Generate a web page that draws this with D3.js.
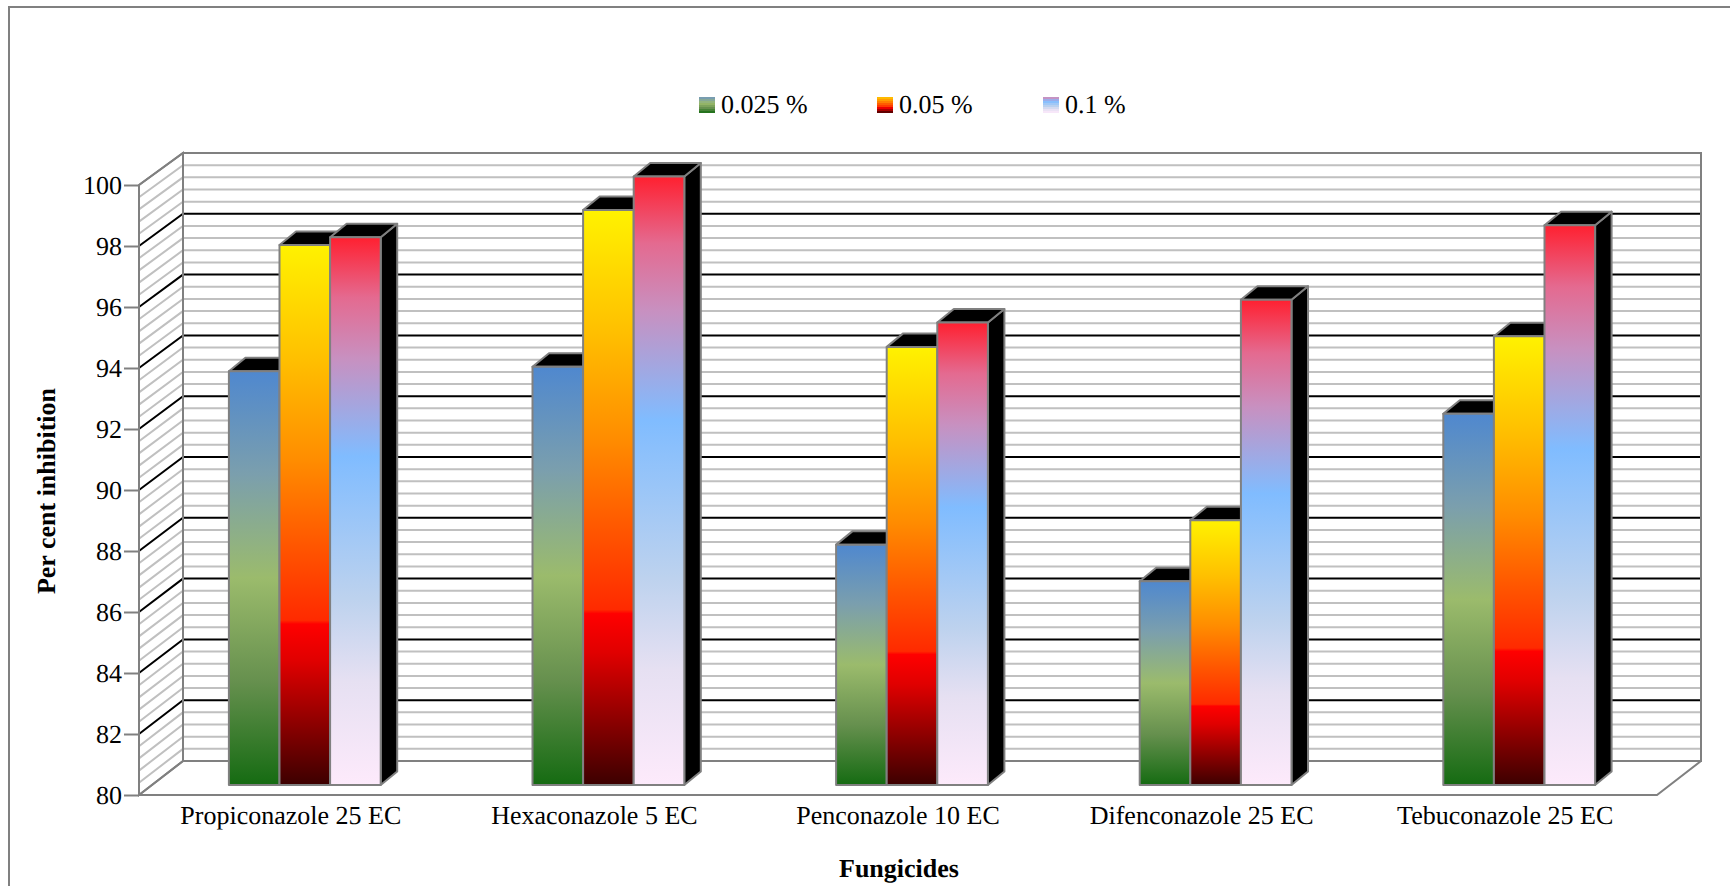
<!DOCTYPE html>
<html>
<head>
<meta charset="utf-8">
<title>Per cent inhibition by fungicide</title>
<script src="https://cdn.jsdelivr.net/npm/d3@7"></script>
<style>
  html, body { margin: 0; padding: 0; background: #fff; }
  svg { display: block; }
  text { font-family: "Liberation Serif", serif; fill: #000; text-rendering: geometricPrecision; }
</style>
</head>
<body>
<svg id="chart" width="1730" height="886"></svg>
<script>
// Chart data
const fungicides = ["Propiconazole 25 EC", "Hexaconazole 5 EC", "Penconazole 10 EC", "Difenconazole 25 EC", "Tebuconazole 25 EC"];
const seriesNames = ["0.025 %", "0.05 %", "0.1 %"];
const lowDose = [93.6, 93.75, 87.9, 86.7, 92.2];
const midDose = [97.75, 98.9, 94.4, 88.7, 94.75];
const highDose = [98.0, 100, 95.2, 95.95, 98.4];
const yTicks = [80, 82, 84, 86, 88, 90, 92, 94, 96, 98, 100];
const minorGrid = d3.range(80, 100.01, 0.4).map(v => +v.toFixed(1));

// Gradient ramps, top of bar to bottom
const ramps = [
  [[0, "#4f88cf"], [0.25, "#7b9fad"], [0.5, "#9bbb6c"], [0.75, "#66904e"], [1, "#156b12"]],
  [[0, "#fff200"], [0.21, "#ffc000"], [0.4, "#ff8c00"], [0.56, "#ff5500"], [0.695, "#ff2a00"], [0.702, "#ff0000"], [0.77, "#e00000"], [1, "#3c0000"]],
  [[0, "#ff2030"], [0.11, "#e46a90"], [0.22, "#c890c0"], [0.4, "#80bcff"], [0.66, "#bdd2ee"], [0.81, "#e6e0f2"], [1, "#fdeafb"]]
];

const GREY = "#808080", LIGHT = "#c0c0c0";
const FONT_SIZE = 26;
const svg = d3.select("#chart");
const defs = svg.append("defs");

// Outer chart frame: only the top and left edges fall inside the page
svg.append("path").attr("d", d3.line()([[1730, 7], [9, 7], [9, 886]]))
  .attr("fill", "none").attr("stroke", GREY).attr("stroke-width", 2);

// Three parallel planes of the 3D box: front edge, bar plane and back wall
const yFront = d3.scaleLinear().domain([80, 100]).range([795, 185]);
const yBar = d3.scaleLinear().domain([80, 100]).range([785, 176.5]);
const yBack = d3.scaleLinear().domain([80, 100]).range([761, 153]);
const xFront = d3.scaleBand().domain(fungicides).range([139, 1657]).paddingInner(0.5).paddingOuter(0.25);
const xBar = d3.scaleBand().domain(fungicides).range([153, 1671]).paddingInner(0.5).paddingOuter(0.25);
const xSeries = d3.scaleBand().domain(seriesNames).range([0, xBar.bandwidth()]);
const wallDx = 44, barDx = 16.5, barDy = 13.5;
const backLeft = 139 + wallDx, backRight = 1657 + wallDx;

// Walls and floor
const walls = svg.append("g").attr("fill", "#fff").attr("stroke", GREY).attr("stroke-width", 2);
walls.append("rect").attr("x", backLeft).attr("y", yBack(100)).attr("width", backRight - backLeft).attr("height", yBack(80) - yBack(100));
walls.append("path").attr("d", d3.line()([[139, yFront(100)], [backLeft, yBack(100)], [backLeft, yBack(80)], [139, yFront(80)]]) + "Z");

// Gridlines on the side wall and back wall; black major lines sit above the grey ones
const inner = minorGrid.filter(v => v > 80 && v < 100);
const isMajor = v => Math.abs(v / 2 - Math.round(v / 2)) < 1e-6;
svg.append("g").attr("fill", "none").attr("stroke-width", 2)
  .selectAll("path")
  .data([...inner.filter(v => !isMajor(v)), ...inner.filter(isMajor)])
  .join("path")
  .attr("d", v => d3.line()([[139, yFront(v)], [backLeft, yBack(v)], [backRight, yBack(v)]]))
  .attr("stroke", v => isMajor(v) ? "#000" : LIGHT);

// Wall outlines on top of the gridlines
const edges = svg.append("g").attr("fill", "none").attr("stroke", GREY).attr("stroke-width", 2);
edges.append("path").attr("d", d3.line()([[139, yFront(100)], [backLeft, yBack(100)], [backRight, yBack(100)], [backRight, yBack(80)], [backLeft, yBack(80)], [backLeft, yBack(100)]]));
edges.append("path").attr("d", d3.line()([[139, yFront(100)], [139, yFront(80)], [1657, yFront(80)], [backRight, yBack(80)]]));
edges.append("path").attr("d", d3.line()([[139, yFront(80)], [backLeft, yBack(80)]]));

// Gradient definitions
ramps.forEach((ramp, i) => {
  defs.append("linearGradient").attr("id", "bar-" + i)
    .attr("x1", 0).attr("y1", 0).attr("x2", 0).attr("y2", 1)
    .selectAll("stop").data(ramp).join("stop")
    .attr("offset", d => d[0]).attr("stop-color", d => d[1]);

  // Legend keys use a coarse, stepped version of the lower part of the ramp
  const scale = d3.scaleLinear().domain(ramp.map(d => d[0])).range(ramp.map(d => d[1]));
  const steps = 8;
  const stepped = defs.append("linearGradient").attr("id", "key-" + i)
    .attr("x1", 0).attr("y1", 0).attr("x2", 0).attr("y2", 1);
  d3.range(steps).forEach(k => {
    const colour = scale(0.18 + 0.82 * (k + 0.5) / steps);
    stepped.append("stop").attr("offset", k / steps).attr("stop-color", colour);
    stepped.append("stop").attr("offset", (k + 1) / steps).attr("stop-color", colour);
  });
});

// Bars: side and top faces first, then the gradient front face
const seriesValues = [lowDose, midDose, highDose];
const bars = svg.append("g");
fungicides.forEach((name, c) => {
  seriesNames.forEach((s, i) => {
    const v = seriesValues[i][c];
    const x0 = xBar(name) + xSeries(s), x1 = x0 + xSeries.bandwidth();
    const top = yBar(v), base = yBar(80);
    const bar = bars.append("g").attr("stroke", GREY).attr("stroke-width", 2).attr("stroke-linejoin", "round");
    bar.append("path").attr("fill", "#000")
      .attr("d", d3.line()([[x1, top], [x1 + barDx, top - barDy], [x1 + barDx, base - barDy], [x1, base]]) + "Z");
    bar.append("path").attr("fill", "#000")
      .attr("d", d3.line()([[x0, top], [x0 + barDx, top - barDy], [x1 + barDx, top - barDy], [x1, top]]) + "Z");
    bar.append("rect").attr("x", x0).attr("y", top)
      .attr("width", x1 - x0).attr("height", base - top)
      .attr("fill", `url(#bar-${i})`);
  });
});

// Axes
const yAxis = svg.append("g").attr("transform", "translate(139,0)")
  .call(d3.axisLeft(yFront).tickValues(yTicks).tickSize(15).tickPadding(2).tickFormat(d3.format("d")));
const xAxis = svg.append("g").attr("transform", `translate(0,${yFront(80)})`)
  .call(d3.axisBottom(xFront).tickSize(0).tickPadding(11));
xAxis.select(".domain").remove();
yAxis.select(".domain").remove();
yAxis.selectAll("line").attr("stroke", GREY).attr("stroke-width", 2);
yAxis.selectAll("text").attr("font-family", "Liberation Serif").attr("font-size", FONT_SIZE);
xAxis.selectAll("text").attr("font-family", "Liberation Serif").attr("font-size", FONT_SIZE);

// Axis titles
svg.append("text").attr("x", 899).attr("y", 877).attr("text-anchor", "middle")
  .attr("font-size", FONT_SIZE).attr("font-weight", "bold").text("Fungicides");
svg.append("text").attr("transform", "translate(55,491) rotate(-90)").attr("text-anchor", "middle")
  .attr("font-size", FONT_SIZE).attr("font-weight", "bold").text("Per cent inhibition");

// Legend
const legendX = d3.scaleOrdinal().domain(seriesNames).range([699, 877, 1043]);
const legend = svg.append("g");
seriesNames.forEach((s, i) => {
  legend.append("rect").attr("x", legendX(s)).attr("y", 97).attr("width", 16).attr("height", 16)
    .attr("fill", `url(#key-${i})`);
  legend.append("text").attr("x", legendX(s) + 22).attr("y", 113)
    .attr("font-size", FONT_SIZE).text(s);
});
</script>
</body>
</html>
